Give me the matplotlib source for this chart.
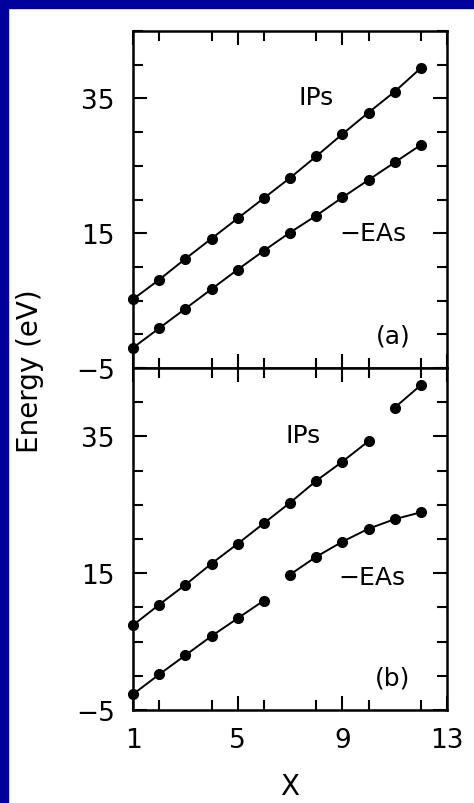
import numpy as np
import matplotlib
matplotlib.use("Agg")
import matplotlib.pyplot as plt
from matplotlib.patches import Rectangle
from matplotlib.ticker import MultipleLocator, FixedLocator

# cluster size X = 1..12
x = np.arange(1, 13)

# (a) ionisation potentials and negative electron affinities (eV)
ip_a = [5.2, 8.1, 11.2, 14.2, 17.2, 20.2, 23.2, 26.4, 29.7, 32.9, 36.0, 39.5]
ea_a = [-2.0, 0.9, 3.8, 6.7, 9.6, 12.4, 15.1, 17.6, 20.3, 22.9, 25.5, 28.1]

# (b) same quantities, second model -- both series have breaks
ip_b = [7.4, 10.4, 13.3, 16.4, 19.3, 22.3, 25.3, 28.5, 31.3, 34.3, 39.2, 42.5]
ea_b = [-2.7, 0.2, 3.0, 5.8, 8.4, 11.0, 14.8, 17.4, 19.6, 21.5, 22.9, 23.9]
ip_b_break = 10   # line restarts after this X
ea_b_break = 6

xticks = [1, 5, 9, 13]
yticks = [-5, 15, 35]

W, H = 474, 804
fig = plt.figure(figsize=(W / 100, H / 100), dpi=100)
fig.patch.set_facecolor("white")

# blue frame strips on top and left
blue = "#00009c"
fig.patches.append(Rectangle((0, 1 - 9 / H), 1, 9 / H, transform=fig.transFigure,
                             color=blue, zorder=-1))
fig.patches.append(Rectangle((0, 0), 8 / W, 1, transform=fig.transFigure,
                             color=blue, zorder=-1))

left, width = 133 / W, 314 / W
ax_a = fig.add_axes([left, 1 - 369 / H, width, 337 / H])
ax_b = fig.add_axes([left, 1 - 711 / H, width, 342 / H])

line_kw = dict(color="black", lw=1.4, marker="o", ms=7, clip_on=False)


def split(xs, ys, brk):
    xs = np.asarray(xs)
    ys = np.asarray(ys)
    m = xs <= brk
    return (xs[m], ys[m]), (xs[~m], ys[~m])


ax_a.plot(x, ip_a, **line_kw)
ax_a.plot(x, ea_a, **line_kw)

for seg in split(x, ip_b, ip_b_break):
    ax_b.plot(*seg, **line_kw)
for seg in split(x, ea_b, ea_b_break):
    ax_b.plot(*seg, **line_kw)

txt = dict(fontsize=18, ha="center", va="center")
ax_a.text(8.0, 35.2, "IPs", **txt)
ax_a.text(10.17, 15.1, "\u2212EAs", **txt)
ax_a.text(10.93, -0.2, "(a)", **txt)
ax_b.text(7.5, 35.2, "IPs", **txt)
ax_b.text(10.13, 14.4, "\u2212EAs", **txt)
ax_b.text(10.93, -0.2, "(b)", **txt)

for ax in (ax_a, ax_b):
    ax.set_xlim(1, 13)
    ax.set_ylim(-5, 45)
    ax.xaxis.set_major_locator(FixedLocator(xticks))
    ax.xaxis.set_minor_locator(MultipleLocator(2))
    ax.yaxis.set_major_locator(FixedLocator(yticks))
    ax.yaxis.set_minor_locator(MultipleLocator(5))
    ax.tick_params(which="both", direction="in", top=True, right=True,
                   width=1.5, labelsize=19, pad=13)
    ax.tick_params(which="major", length=10)
    ax.tick_params(which="minor", length=7)
    for s in ax.spines.values():
        s.set_linewidth(1.8)

ax_a.tick_params(labelbottom=False)
ax_b.tick_params(axis="x", pad=12)

fig.text(290 / W, 1 - 787 / H, "X", fontsize=20, ha="center", va="center")
fig.text(30 / W, 1 - 371 / H, "Energy (eV)", fontsize=20, rotation=90,
         ha="center", va="center")

fig.savefig("out.png", dpi=100)
